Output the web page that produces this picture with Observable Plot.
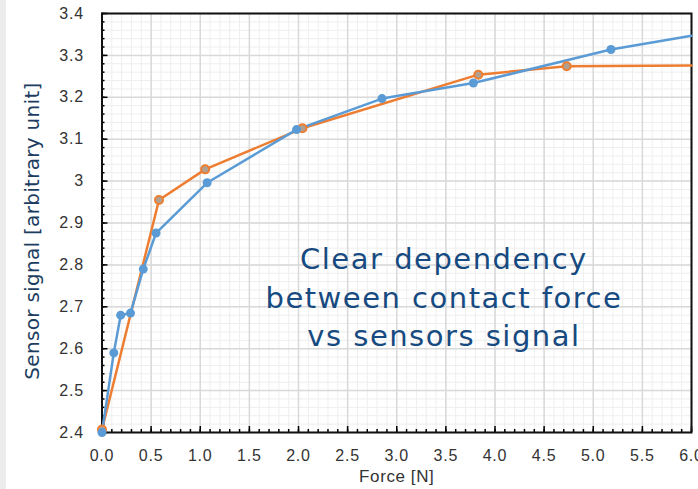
<!DOCTYPE html>
<html><head><meta charset="utf-8">
<script src="https://cdn.jsdelivr.net/npm/d3@7"></script>
<script src="https://cdn.jsdelivr.net/npm/@observablehq/plot@0.6"></script>
<style>
body{margin:0;background:#fff;}
#wrap{position:relative;width:698px;height:489px;overflow:hidden;background:#fff;}
#strip{position:absolute;left:0;top:0;width:6px;height:489px;background:#ececec;}
#chart{position:absolute;left:0;top:0;}
.ticklab text{letter-spacing:0.8px;}
.annot text{letter-spacing:1.5px;}
.xtitle text{letter-spacing:0.6px;}
.ytitle text{letter-spacing:0.3px;}
</style></head><body>
<div id="wrap"><div id="strip"></div><div id="chart"></div></div>
<script>
// Blue series (filled markers); last point only continues the line to the edge
const blueForce  = [0, 0.12, 0.19, 0.29, 0.42, 0.55, 1.07, 1.98, 2.85, 3.78, 5.18, 6.0];
const blueSignal = [2.40, 2.59, 2.68, 2.685, 2.79, 2.876, 2.996, 3.123, 3.197, 3.234, 3.314, 3.347];
const blueMarker = [1,1,1,1,1,1,1,1,1,1,1,0];
// Orange series (ring markers)
const orangeForce  = [0, 0.58, 1.05, 2.04, 3.83, 4.73, 6.0];
const orangeSignal = [2.407, 2.955, 3.028, 3.126, 3.254, 3.274, 3.276];
const orangeMarker = [1,1,1,1,1,1,0];

const xMajor = [0,0.5,1,1.5,2,2.5,3,3.5,4,4.5,5,5.5,6];
const yMajor = [2.4,2.5,2.6,2.7,2.8,2.9,3.0,3.1,3.2,3.3,3.4];
const xMinor = d3.range(0, 61).map(i => i / 10);
const yMinor = d3.range(0, 51).map(i => +(2.4 + i * 0.02).toFixed(2));

const annotation = "Clear dependency\nbetween contact force\nvs sensors signal";
const yTitle = "Sensor signal [arbitrary unit]";
const xTitle = "Force [N]";

const blue = blueForce.map((f, i) => ({force: f, signal: blueSignal[i], m: blueMarker[i]}));
const orange = orangeForce.map((f, i) => ({force: f, signal: orangeSignal[i], m: orangeMarker[i]}));

const BLUE = "#5b9bd5", ORANGE = "#ed7d31";
const W = 698, H = 489, ML = 101.5, MR = 7, MT = 13, MB = 57;
const PW = W - ML - MR, PH = H - MT - MB;

const chart = Plot.plot({
  width: W, height: H,
  marginLeft: ML, marginRight: MR, marginTop: MT, marginBottom: MB,
  style: {fontFamily: "'Liberation Sans', Arial, sans-serif", background: "transparent"},
  x: {domain: [0, 6], axis: null},
  y: {domain: [2.4, 3.4], axis: null},
  marks: [
    Plot.gridX(xMinor, {stroke: "#eeeeee", strokeOpacity: 1, strokeWidth: 1}),
    Plot.gridY(yMinor, {stroke: "#eeeeee", strokeOpacity: 1, strokeWidth: 1}),
    Plot.gridX(xMajor, {stroke: "#d9d9d9", strokeOpacity: 1, strokeWidth: 1.5}),
    Plot.gridY(yMajor, {stroke: "#d9d9d9", strokeOpacity: 1, strokeWidth: 1.5}),
    // inward ticks
    Plot.tickX(xMinor, {x: d => d, insetTop: PH - 3, stroke: "#000", strokeWidth: 1.5}),
    Plot.tickX(xMajor, {x: d => d, insetTop: PH - 6, stroke: "#000", strokeWidth: 1.5}),
    Plot.tickY(yMinor, {y: d => d, insetRight: PW - 3, stroke: "#000", strokeWidth: 1.5}),
    Plot.tickY(yMajor, {y: d => d, insetRight: PW - 6, stroke: "#000", strokeWidth: 1.5}),
    // tick labels
    Plot.axisX(xMajor, {tickSize: 0, tickPadding: 17, tickFormat: d3.format(".1f"), fontSize: 16, fill: "#333", label: null, className: "ticklab"}),
    Plot.axisY(yMajor, {tickSize: 0, tickPadding: 18, tickFormat: d => String(+d.toFixed(1)), fontSize: 16, fill: "#333", label: null, className: "ticklab"}),
    Plot.frame({stroke: "#111", strokeWidth: 2}),
    Plot.line(orange, {x: "force", y: "signal", stroke: ORANGE, strokeWidth: 2.5}),
    Plot.line(blue, {x: "force", y: "signal", stroke: BLUE, strokeWidth: 2.5}),
    Plot.dot(orange.filter(d => d.m), {x: "force", y: "signal", r: 4, fill: "#b0a090", stroke: ORANGE, strokeWidth: 2}),
    Plot.dot(blue.filter(d => d.m), {x: "force", y: "signal", r: 4.5, fill: BLUE, stroke: BLUE, strokeWidth: 0}),
    Plot.text([annotation], {x: 3.48, y: 2.727, text: d => d, fontSize: 29, lineHeight: 1.33, fill: "#164a80",
      fontFamily: "'DejaVu Sans', sans-serif", textAnchor: "middle", lineAnchor: "middle", className: "annot"}),
    Plot.text([yTitle], {frameAnchor: "left", dx: -69, dy: 8, rotate: -90, textAnchor: "middle", text: d => d, fontSize: 20, fill: "#1d3d5f",
      fontFamily: "'DejaVu Sans', sans-serif", className: "ytitle"}),
    Plot.text([xTitle], {frameAnchor: "bottom", dy: 44, lineAnchor: "middle", text: d => d, fontSize: 17, fill: "#333", className: "xtitle"})
  ]
});
document.getElementById("chart").appendChild(chart);
</script>
</body></html>
